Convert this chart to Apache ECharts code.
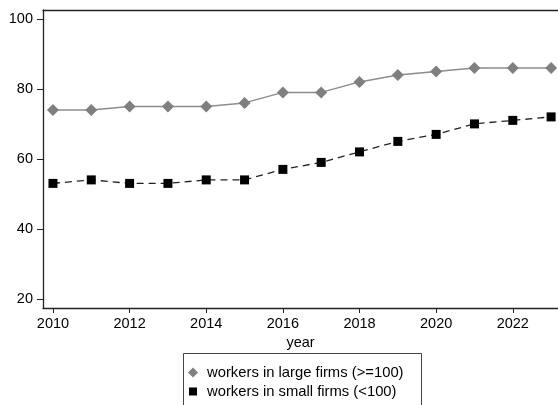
<!DOCTYPE html>
<html>
<head>
<meta charset="utf-8">
<script src="https://cdn.jsdelivr.net/npm/echarts@6/dist/echarts.min.js"></script>
<style>html,body{margin:0;padding:0;background:#fff;}#c{width:558px;height:405px;}</style>
</head>
<body>
<div id="c"></div>
<script>
var years = [2010,2011,2012,2013,2014,2015,2016,2017,2018,2019,2020,2021,2022,2023];
var largeFirms = [74,74,75,75,75,76,79,79,82,84,85,86,86,86];
var smallFirms = [53,54,53,53,54,54,57,59,62,65,67,70,71,72];
var xTicks = [2010,2012,2014,2016,2018,2020,2022];
var yTicks = [20,40,60,80,100];
var seriesNames = ['workers in large firms (>=100)','workers in small firms (<100)'];

function pairs(vals){ return years.map(function(y,i){ return [y, vals[i]]; }); }

var font = 'Liberation Sans, Arial, sans-serif';
var xMin = 2009.74, xMax = 2023.18;
var chart = echarts.init(document.getElementById('c'), null, {renderer:'canvas'});
chart.setOption({
  backgroundColor:'#fff',
  animation:false,
  textStyle:{fontFamily:font},
  grid:{left:43, top:10, right:0, height:298, show:false, containLabel:false},
  graphic:[{type:'rect', left:183, top:353, shape:{width:238, height:70}, style:{fill:'#fff', stroke:'#444', lineWidth:1}, z:1}],
  xAxis:[{
    type:'value', min:xMin, max:xMax,
    name:'year', nameLocation:'middle', nameGap:25,
    nameTextStyle:{color:'#000', fontSize:14.5, fontFamily:font},
    splitLine:{show:false},
    axisLine:{show:true, lineStyle:{color:'#222', width:1.3}},
    axisTick:{show:true, length:5, lineStyle:{color:'#222'}, customValues:xTicks},
    axisLabel:{color:'#000', fontSize:14.5, fontFamily:font, margin:8, customValues:xTicks, formatter:function(v){return String(v);}}
  },{
    type:'value', position:'top', min:xMin, max:xMax,
    splitLine:{show:false}, axisTick:{show:false}, axisLabel:{show:false},
    axisLine:{show:true, lineStyle:{color:'#222', width:1.3}}
  }],
  yAxis:{
    type:'value', min:17.4, max:102.54,
    splitLine:{show:false},
    axisLine:{show:true, lineStyle:{color:'#222', width:1.3}},
    axisTick:{show:true, length:6, lineStyle:{color:'#222'}, customValues:yTicks},
    axisLabel:{color:'#000', fontSize:14.5, fontFamily:font, margin:10, customValues:yTicks}
  },
  legend:{
    orient:'vertical', left:183, top:353,
    padding:[12,10,1,5], itemGap:4, z:5,
    itemWidth:10, itemHeight:10,
    textStyle:{color:'#000', fontSize:14.8, fontFamily:font, padding:[0,0,0,4]},
    data:[{name:seriesNames[0], icon:'diamond', itemStyle:{color:'#808080'}},
          {name:seriesNames[1], icon:'path://M0,0M10,10M1,1L9,1L9,9L1,9Z', itemStyle:{color:'#000'}}]
  },
  series:[
    {name:seriesNames[0], type:'line', data:pairs(largeFirms),
     symbol:'diamond', symbolSize:[12,12],
     itemStyle:{color:'#7f7f7f'},
     lineStyle:{color:'#8c8c8c', width:1.5, type:'solid'}},
    {name:seriesNames[1], type:'line', data:pairs(smallFirms),
     symbol:'rect', symbolSize:[9,9],
     itemStyle:{color:'#000'},
     lineStyle:{color:'#222', width:1.3, type:[7,5]}}
  ]
});
</script>
</body>
</html>
